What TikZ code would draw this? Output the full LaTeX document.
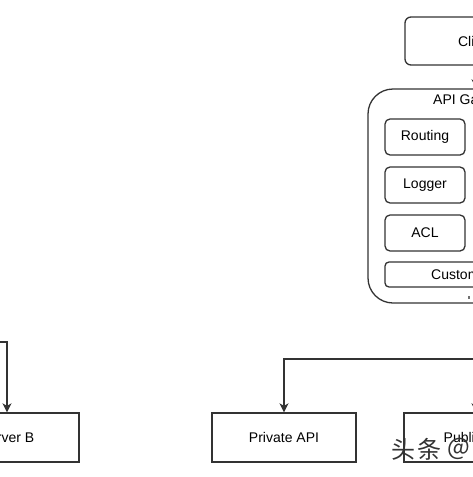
\documentclass[tikz,border=0pt]{standalone}
\usepackage{fontspec}
\setmainfont{Liberation Sans}
\newfontfamily\cjkfont{Noto Sans CJK SC}
\usetikzlibrary{arrows.meta}
\definecolor{ln}{HTML}{333333}
\tikzset{
  base/.style={draw=ln, line width=1.3pt, text=black, font=\fontsize{14}{16}\selectfont, inner sep=0pt},
  rbox/.style={base, rectangle, rounded corners=6pt, minimum width=#1, minimum height=48pt},
  ibox/.style={base, rectangle, rounded corners=5pt, minimum width=80pt, minimum height=36pt},
  sbox/.style={base, rectangle, minimum width=144pt, minimum height=49pt},
  lbl/.style={font=\fontsize{14}{16}\selectfont, inner sep=0pt, anchor=west},
  conn/.style={draw=ln, line width=1.3pt},
  arr/.style={conn, -{Stealth[length=9pt, width=9pt, inset=2.5pt]}},
  wm/.style={font=\cjkfont\fontsize{24}{26}\selectfont, inner sep=0pt, anchor=west, text=ln}
}
\begin{document}
\begin{tikzpicture}[x=1pt, y=-1pt]
\useasboundingbox (0,0) rectangle (473,477);
\clip (0,0) rectangle (473,477);
% Client
\node[rbox=142pt] (client) at (476,41) {Client};
% Gateway container
\node[base, rectangle, rounded corners=25pt, minimum width=216pt, minimum height=214pt] (gw) at (476,196) {};
\node[lbl] (gwlbl) at (433,101) {API Gateway};
\node[ibox] (routing) at (425,137) {Routing};
\node[ibox] (logger) at (425,185) {Logger};
\node[ibox] (acl) at (425,233) {ACL};
\node[base, rectangle, rounded corners=4pt, minimum width=182pt, minimum height=25pt] (custom) at (476,274.5) {};
\node[lbl] (customlbl) at (431,274.5) {Custom};
\fill[ln!70] (467.5,296) rectangle (469.5,298.5);
% bottom boxes
\node[sbox] (serverb) at (7,437.5) {Server B};
\node[sbox] (private) at (284,437.5) {Private API};
\node[sbox] (public) at (476,437.5) {Public API};
% connectors
\draw[arr] (client.south) -- (gw.north);
\coordinate (split) at (476,359);
\coordinate (far) at (520,359);
\draw[arr] (far) -| (private.north);
\draw[arr] (split) -- (public.north);
\coordinate (lft) at (-20,342);
\draw[arr] (lft) -| (serverb.north);
% watermark
\node[wm] (wm1) at (391,449) {头};
\node[wm] (wm2) at (417,449) {条};
\node[wm] (wm3) at (447,449) {@};
\end{tikzpicture}
\end{document}
